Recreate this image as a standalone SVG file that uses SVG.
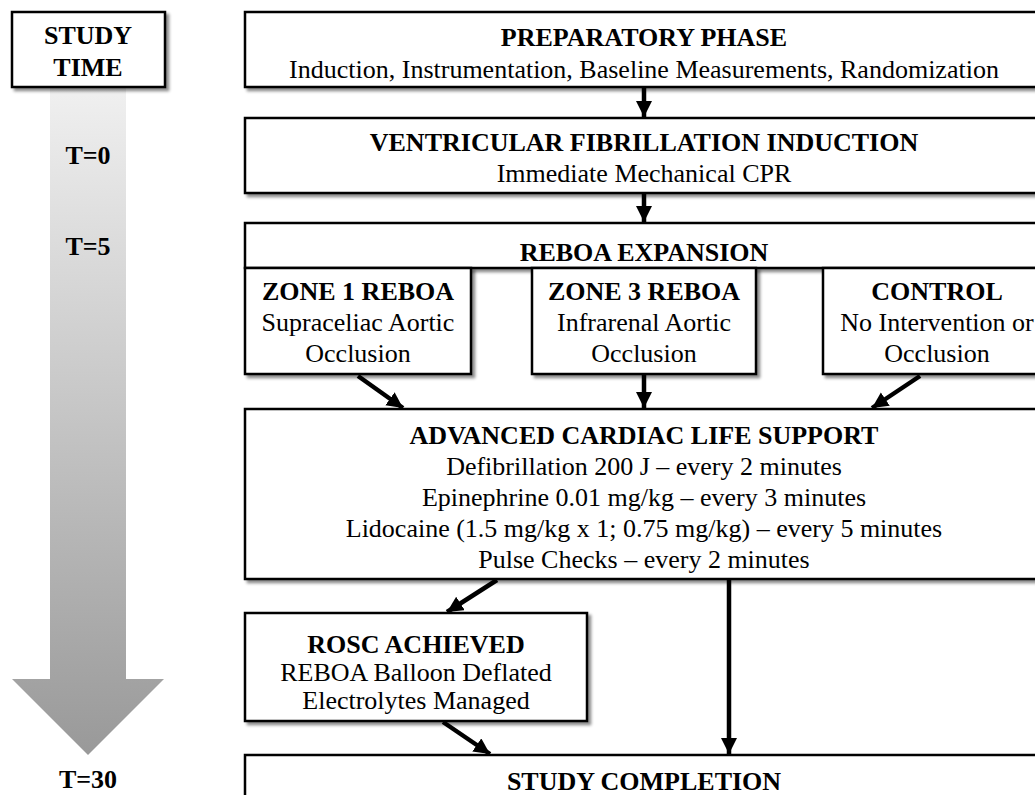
<svg xmlns="http://www.w3.org/2000/svg" width="1035" height="795" viewBox="0 0 1035 795">
<defs>
<linearGradient id="tg" x1="0" y1="0" x2="0" y2="1">
<stop offset="0" stop-color="#f0f0f0"/>
<stop offset="1" stop-color="#999999"/>
</linearGradient>
<filter id="sh" x="-5%" y="-5%" width="115%" height="130%">
<feDropShadow dx="3" dy="3" stdDeviation="1.8" flood-color="#000" flood-opacity="0.45"/>
</filter>
<marker id="ah" markerUnits="userSpaceOnUse" markerWidth="18" markerHeight="18" refX="16" refY="8" orient="auto">
<path d="M0,0 L16,8 L0,16 Z" fill="#000"/>
</marker>
<style>
.box{fill:#fff;stroke:#000;stroke-width:2.5;filter:url(#sh)}
.t{font-family:"Liberation Serif","Times New Roman",serif;font-size:26px;fill:#000;text-anchor:middle}
.b{font-weight:bold}
.c{stroke:#000;stroke-width:4.5;fill:none;marker-end:url(#ah)}
</style>
</defs>
<rect width="1035" height="795" fill="#fff"/>
<g id="timeline">
<polygon points="50,87 126,87 126,679 164,679 88,755 12,679 50,679" fill="url(#tg)"/>
<text class="t b" x="88" y="164">T=0</text>
<text class="t b" x="88" y="255">T=5</text>
<text class="t b" x="88" y="788">T=30</text>
</g>
<g id="study-time">
<rect class="box" x="12" y="12" width="153" height="75"/>
<text class="t b" x="88" y="44">STUDY</text>
<text class="t b" x="88" y="76">TIME</text>
</g>
<g id="preparatory">
<rect class="box" x="245" y="12" width="800" height="75"/>
<text class="t b" x="644" y="46">PREPARATORY PHASE</text>
<text class="t" x="644" y="78">Induction, Instrumentation, Baseline Measurements, Randomization</text>
</g>
<g id="vf">
<rect class="box" x="245" y="118" width="800" height="75"/>
<text class="t b" x="644" y="151">VENTRICULAR FIBRILLATION INDUCTION</text>
<text class="t" x="644" y="182">Immediate Mechanical CPR</text>
</g>
<g id="reboa">
<rect class="box" x="245" y="223" width="800" height="45"/>
<text class="t b" x="644" y="261">REBOA EXPANSION</text>
</g>
<g id="zone1">
<rect class="box" x="245" y="268" width="226" height="106"/>
<text class="t b" x="358" y="300">ZONE 1 REBOA</text>
<text class="t" x="358" y="331">Supraceliac Aortic</text>
<text class="t" x="358" y="362">Occlusion</text>
</g>
<g id="zone3">
<rect class="box" x="532" y="268" width="224" height="106"/>
<text class="t b" x="644" y="300">ZONE 3 REBOA</text>
<text class="t" x="644" y="331">Infrarenal Aortic</text>
<text class="t" x="644" y="362">Occlusion</text>
</g>
<g id="control">
<rect class="box" x="823" y="268" width="230" height="106"/>
<text class="t b" x="937" y="300">CONTROL</text>
<text class="t" x="937" y="331">No Intervention or</text>
<text class="t" x="937" y="362">Occlusion</text>
</g>
<g id="acls">
<rect class="box" x="245" y="409" width="800" height="170"/>
<text class="t b" x="644" y="444">ADVANCED CARDIAC LIFE SUPPORT</text>
<text class="t" x="644" y="475">Defibrillation 200 J – every 2 minutes</text>
<text class="t" x="644" y="506">Epinephrine 0.01 mg/kg – every 3 minutes</text>
<text class="t" x="644" y="537">Lidocaine (1.5 mg/kg x 1; 0.75 mg/kg) – every 5 minutes</text>
<text class="t" x="644" y="568">Pulse Checks – every 2 minutes</text>
</g>
<g id="rosc">
<rect class="box" x="245" y="613" width="342" height="108"/>
<text class="t b" x="416" y="653">ROSC ACHIEVED</text>
<text class="t" x="416" y="681">REBOA Balloon Deflated</text>
<text class="t" x="416" y="709">Electrolytes Managed</text>
</g>
<g id="completion">
<rect class="box" x="245" y="755" width="800" height="60"/>
<text class="t b" x="644" y="790">STUDY COMPLETION</text>
</g>
<g id="connectors">
<line class="c" x1="644" y1="88" x2="644" y2="117"/>
<line class="c" x1="644" y1="194" x2="644" y2="222"/>
<line class="c" x1="358" y1="376" x2="403" y2="408"/>
<line class="c" x1="644" y1="375" x2="644" y2="408"/>
<line class="c" x1="920" y1="376" x2="872" y2="408"/>
<line class="c" x1="497" y1="580" x2="447" y2="612"/>
<line class="c" x1="729" y1="580" x2="729" y2="754"/>
<line class="c" x1="443" y1="722" x2="490" y2="754"/>
</g>
</svg>
